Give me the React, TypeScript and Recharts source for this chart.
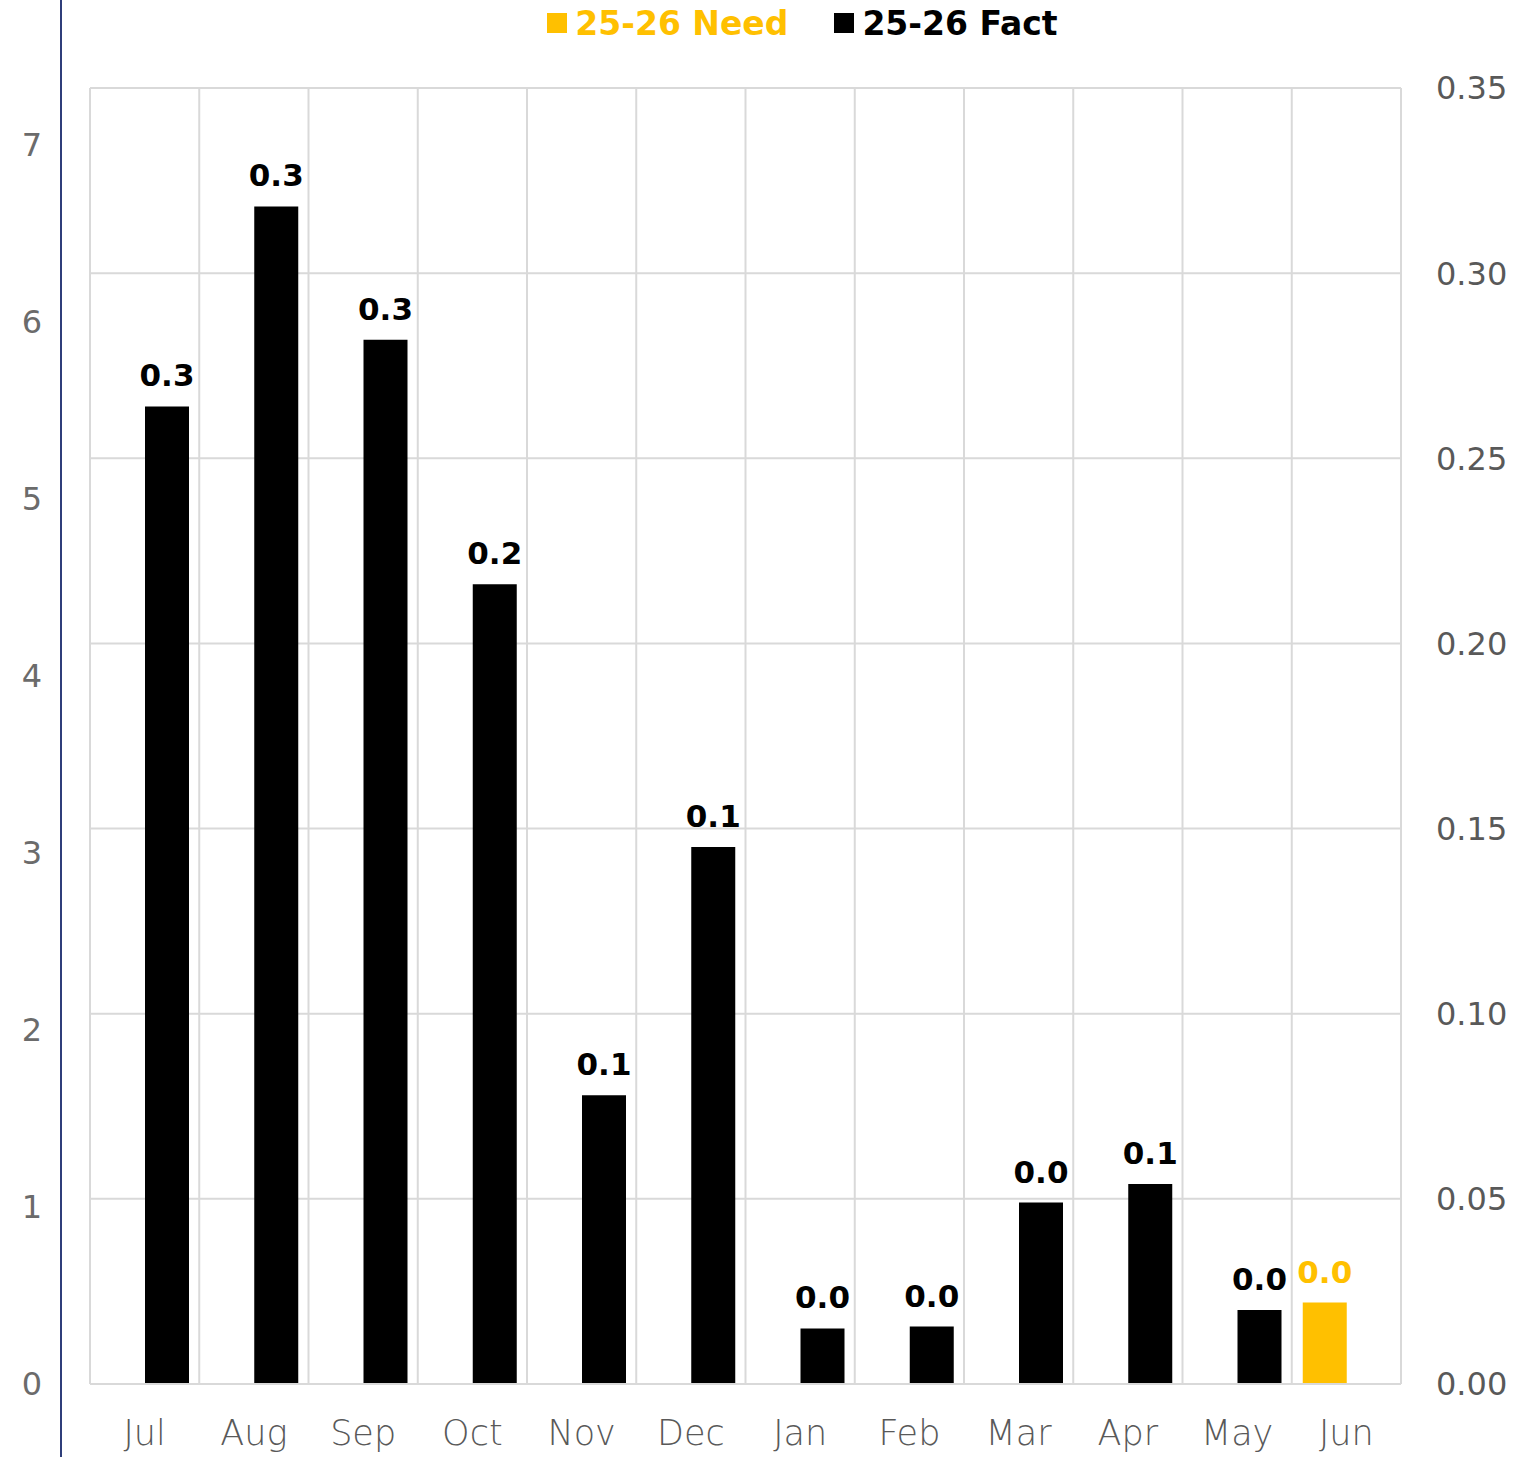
import React from "react"
import {
  Bar,
  BarChart,
  CartesianGrid,
  LabelList,
  Legend,
  XAxis,
  YAxis,
} from "recharts"

const months = ["Jul", "Aug", "Sep", "Oct", "Nov", "Dec", "Jan", "Feb", "Mar", "Apr", "May", "Jun"]
const need = [null, null, null, null, null, null, null, null, null, null, null, 0.022]
const fact = [0.264, 0.318, 0.282, 0.216, 0.078, 0.145, 0.015, 0.0155, 0.049, 0.054, 0.02, null]
const leftTicks = [0, 1, 2, 3, 4, 5, 6, 7]
const rightTicks = [0, 0.05, 0.1, 0.15, 0.2, 0.25, 0.3, 0.35]

const YELLOW = "#FFC000"
const GRID = "#D9D9D9"
const TEXT = "#595959"
const FONT = "'DejaVu Sans', sans-serif"

const data = months.map((month, i) => ({ month, need: need[i], fact: fact[i] }))

const fmt = (v: any) => (v == null ? "" : Number(v).toFixed(1))

function LegendContent() {
  const item = (color: string, label: string) => (
    <div style={{ display: "flex", alignItems: "center", marginRight: 46 }}>
      <div style={{ width: 20, height: 20, background: color, marginRight: 8 }} />
      <span style={{ color, fontWeight: "bold", fontSize: 33, fontFamily: FONT }}>{label}</span>
    </div>
  )
  return (
    <div style={{ display: "flex", justifyContent: "center", height: 46, alignItems: "center" }}>
      {item(YELLOW, "25-26 Need")}
      {item("#000000", "25-26 Fact")}
    </div>
  )
}

export default function App() {
  return (
    <div style={{ position: "absolute", left: 0, top: 0, width: 1527, height: 1457 }}>
      <div
        style={{ position: "absolute", left: 60, top: 0, width: 2, height: 1457, background: "#2F3E7A" }}
      />
      <BarChart
        width={1527}
        height={1457}
        data={data}
        barGap={0}
        barSize={44}
        margin={{ top: 42, right: 0, left: 0, bottom: 0 }}
      >
        <CartesianGrid
          yAxisId="right"
          stroke={GRID}
          strokeWidth={2}
          verticalCoordinatesGenerator={({ offset }: any) =>
            months.map((_, i) => offset.left + (i * offset.width) / months.length).concat(offset.left + offset.width)
          }
        />
        <Legend
          verticalAlign="top"
          align="center"
          content={<LegendContent />}
          wrapperStyle={{ top: 0, left: 124, width: 1403 }}
        />
        <XAxis
          dataKey="month"
          height={73}
          tickLine={false}
          tickSize={0}
          tickMargin={36}
          axisLine={{ stroke: GRID, strokeWidth: 2 }}
          tick={{ fill: TEXT, fontSize: 35, fontFamily: FONT, fontWeight: 300 }}
        />
        <YAxis
          yAxisId="left"
          orientation="left"
          width={90}
          domain={[0, 7.32]}
          ticks={leftTicks}
          allowDataOverflow
          axisLine={false}
          tickLine={false}
          tickSize={0}
          tickMargin={48}
          tick={{ fill: "#6B6B6B", fontSize: 32, fontFamily: FONT }}
        />
        <YAxis
          yAxisId="right"
          orientation="right"
          width={126}
          domain={[0, 0.35]}
          ticks={rightTicks}
          allowDataOverflow
          axisLine={false}
          tickLine={false}
          tickSize={0}
          tickMargin={35}
          tickFormatter={(v: number) => v.toFixed(2)}
          tick={{ fill: TEXT, fontSize: 32, fontFamily: FONT }}
        />
        <Bar yAxisId="right" dataKey="need" name="25-26 Need" fill={YELLOW} isAnimationActive={false}>
          <LabelList
            dataKey="need"
            position="top"
            offset={20}
            formatter={fmt}
            style={{ fill: YELLOW, fontSize: 31, fontWeight: "bold", fontFamily: FONT }}
          />
        </Bar>
        <Bar yAxisId="right" dataKey="fact" name="25-26 Fact" fill="#000000" isAnimationActive={false}>
          <LabelList
            dataKey="fact"
            position="top"
            offset={20}
            formatter={fmt}
            style={{ fill: "#000000", fontSize: 31, fontWeight: "bold", fontFamily: FONT }}
          />
        </Bar>
      </BarChart>
    </div>
  )
}
